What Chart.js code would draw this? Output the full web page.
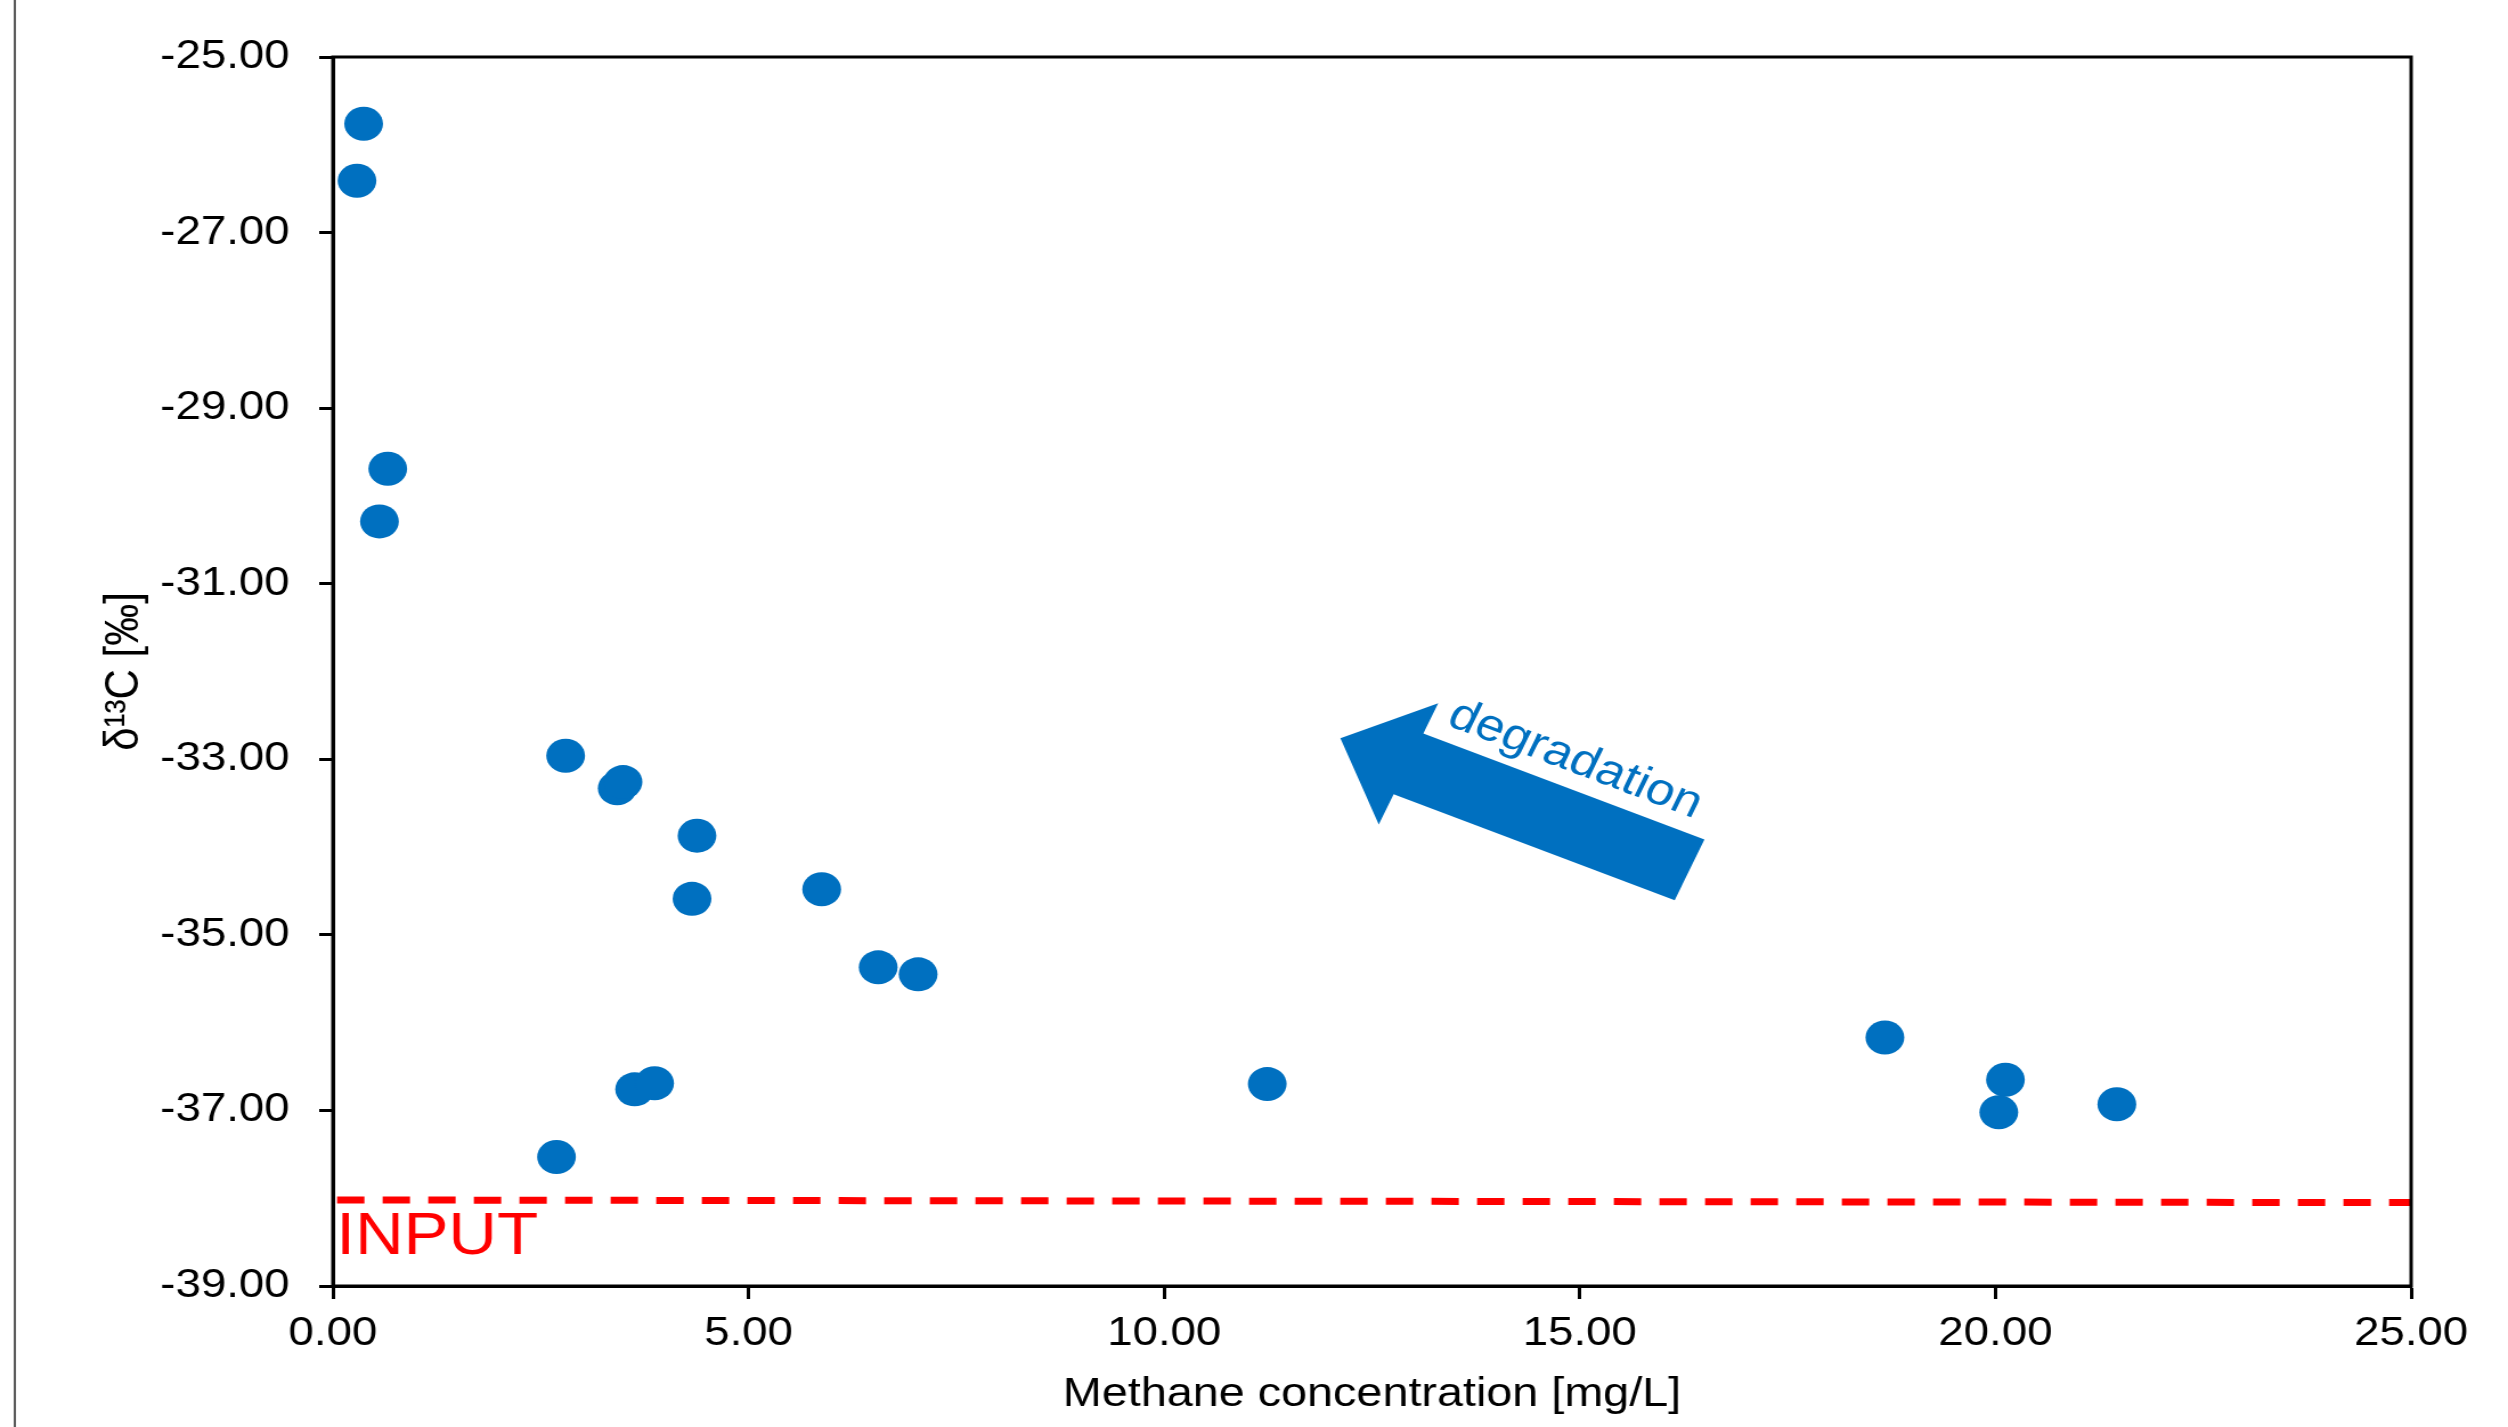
<!DOCTYPE html>
<html>
<head>
<meta charset="utf-8">
<title>Methane concentration vs δ13C</title>
<script src="https://cdn.jsdelivr.net/npm/chart.js@4/dist/chart.umd.min.js"></script>
<style>
  html, body { margin: 0; padding: 0; background: #fff; overflow: hidden; }
  /* the original picture is stretched horizontally by about 1.14 */
  #chart { display: block; width: 2508px !important; height: 1427px !important; }
</style>
</head>
<body>
<canvas id="chart" width="2200" height="1427" style="width:2508px;height:1427px"></canvas>
<script>
// Measured samples
const methaneConc = [0.37, 0.29, 0.66, 0.56, 2.80, 3.42, 3.49, 4.38, 4.32, 5.88,
                     6.56, 7.04, 3.63, 3.87, 2.69, 11.24, 18.67, 20.12, 20.04, 21.46];
const delta13C = [-25.76, -26.41, -29.69, -30.29, -32.96, -33.33, -33.26, -33.87, -34.59, -34.48,
                  -35.37, -35.45, -36.76, -36.69, -37.53, -36.70, -36.17, -36.65, -37.02, -36.93];

// Input signature (dashed red line)
const inputLineX = [0.05, 25];
const inputLineY = [-38.02, -38.05];

// Degradation arrow, from tail to tip (data units)
const arrowTail = [16.32, -34.26];
const arrowTip = [12.12, -32.76];

// Axis ticks
const xTickValues = [0, 5, 10, 15, 20, 25];
const yTickValues = [-39, -37, -35, -33, -31, -29, -27, -25];

const FONT = "'Liberation Sans', Arial, sans-serif";
const BLUE = '#0070C0';
const RED = '#FF0000';

const decorations = {
    id: 'decorations',
    beforeDraw(chart) {
        const ctx = chart.ctx;
        ctx.save();
        ctx.fillStyle = '#fff';
        ctx.fillRect(0, 0, chart.width, chart.height);
        // page edge line on the left
        ctx.strokeStyle = '#5a5a5a';
        ctx.lineWidth = 2;
        ctx.beginPath();
        ctx.moveTo(13, 0);
        ctx.lineTo(13, chart.height);
        ctx.stroke();
        ctx.restore();
    },
    afterDatasetsDraw(chart) {
        const { ctx, chartArea: a, scales: { x, y } } = chart;
        ctx.save();

        // plot frame (top and right sides)
        ctx.strokeStyle = '#000';
        ctx.lineWidth = 3;
        ctx.strokeRect(a.left, a.top, a.right - a.left, a.bottom - a.top);

        // INPUT label under the dashed line
        ctx.fillStyle = RED;
        ctx.font = `59px ${FONT}`;
        ctx.textAlign = 'left';
        ctx.textBaseline = 'alphabetic';
        ctx.fillText('INPUT', x.getPixelForValue(0) + 3, y.getPixelForValue(inputLineY[0]) + 54);

        // degradation arrow
        const tx = x.getPixelForValue(arrowTail[0]), ty = y.getPixelForValue(arrowTail[1]);
        const hx = x.getPixelForValue(arrowTip[0]), hy = y.getPixelForValue(arrowTip[1]);
        const len = Math.hypot(hx - tx, hy - ty);
        const ux = (hx - tx) / len, uy = (hy - ty) / len;   // towards tip
        const nx = -uy, ny = ux;
        const shaft = 33, head = 66, headLen = 65;
        const bx = hx - ux * headLen, by = hy - uy * headLen;
        ctx.fillStyle = BLUE;
        ctx.beginPath();
        ctx.moveTo(tx + nx * shaft, ty + ny * shaft);
        ctx.lineTo(bx + nx * shaft, by + ny * shaft);
        ctx.lineTo(bx + nx * head, by + ny * head);
        ctx.lineTo(hx, hy);
        ctx.lineTo(bx - nx * head, by - ny * head);
        ctx.lineTo(bx - nx * shaft, by - ny * shaft);
        ctx.lineTo(tx - nx * shaft, ty - ny * shaft);
        ctx.closePath();
        ctx.fill();

        // label along the upper side of the shaft
        const angle = Math.atan2(ty - hy, tx - hx);
        const wx = Math.cos(angle), wy = Math.sin(angle);
        const sx = hx + wx * 79 + wy * 49, sy = hy + wy * 79 - wx * 49;
        ctx.translate(sx, sy);
        ctx.rotate(angle);
        ctx.font = `45px ${FONT}`;
        ctx.fillText('degradation', 0, 0);

        ctx.restore();
    }
};

const points = methaneConc.map((v, i) => ({ x: v, y: delta13C[i] }));
const inputLine = inputLineX.map((v, i) => ({ x: v, y: inputLineY[i] }));

new Chart(document.getElementById('chart'), {
    type: 'scatter',
    data: {
        datasets: [{
            label: 'Samples',
            data: points,
            backgroundColor: BLUE,
            borderColor: BLUE,
            borderWidth: 0,
            pointRadius: 17,
            pointHoverRadius: 17
        }, {
            label: 'Input',
            data: inputLine,
            showLine: true,
            borderColor: RED,
            borderWidth: 7,
            borderDash: [24, 16],
            pointRadius: 0,
            fill: false
        }]
    },
    options: {
        responsive: false,
        animation: false,
        devicePixelRatio: 1,
        layout: { padding: { top: 57, right: 85, bottom: 0, left: 0 } },
        plugins: {
            legend: { display: false },
            tooltip: { enabled: false }
        },
        scales: {
            x: {
                type: 'linear',
                min: 0,
                max: 25,
                afterBuildTicks: s => { s.ticks = xTickValues.map(v => ({ value: v })); },
                afterFit: s => { s.height = 141; },
                grid: { drawOnChartArea: false, tickLength: 13, tickWidth: 3, tickColor: '#000' },
                border: { display: true, color: '#000', width: 3 },
                ticks: {
                    color: '#000',
                    padding: 11,
                    font: { family: FONT, size: 40 },
                    callback: v => Number(v).toFixed(2)
                },
                title: {
                    display: true,
                    text: 'Methane concentration [mg/L]',
                    color: '#000',
                    font: { family: FONT, size: 41 },
                    padding: { top: 0, bottom: 8 }
                }
            },
            y: {
                type: 'linear',
                min: -39,
                max: -25,
                afterBuildTicks: s => { s.ticks = yTickValues.map(v => ({ value: v })); },
                afterFit: s => { s.width = 292; },
                grid: { drawOnChartArea: false, tickLength: 12, tickWidth: 3, tickColor: '#000' },
                border: { display: true, color: '#000', width: 3 },
                ticks: {
                    color: '#000',
                    padding: 26,
                    font: { family: FONT, size: 40 },
                    callback: v => Number(v).toFixed(2)
                },
                title: {
                    display: true,
                    text: 'δ¹³C [‰]',
                    color: '#000',
                    font: { family: FONT, size: 42 },
                    padding: { top: 84, bottom: 0 }
                }
            }
        }
    },
    plugins: [decorations]
});
</script>
</body>
</html>
